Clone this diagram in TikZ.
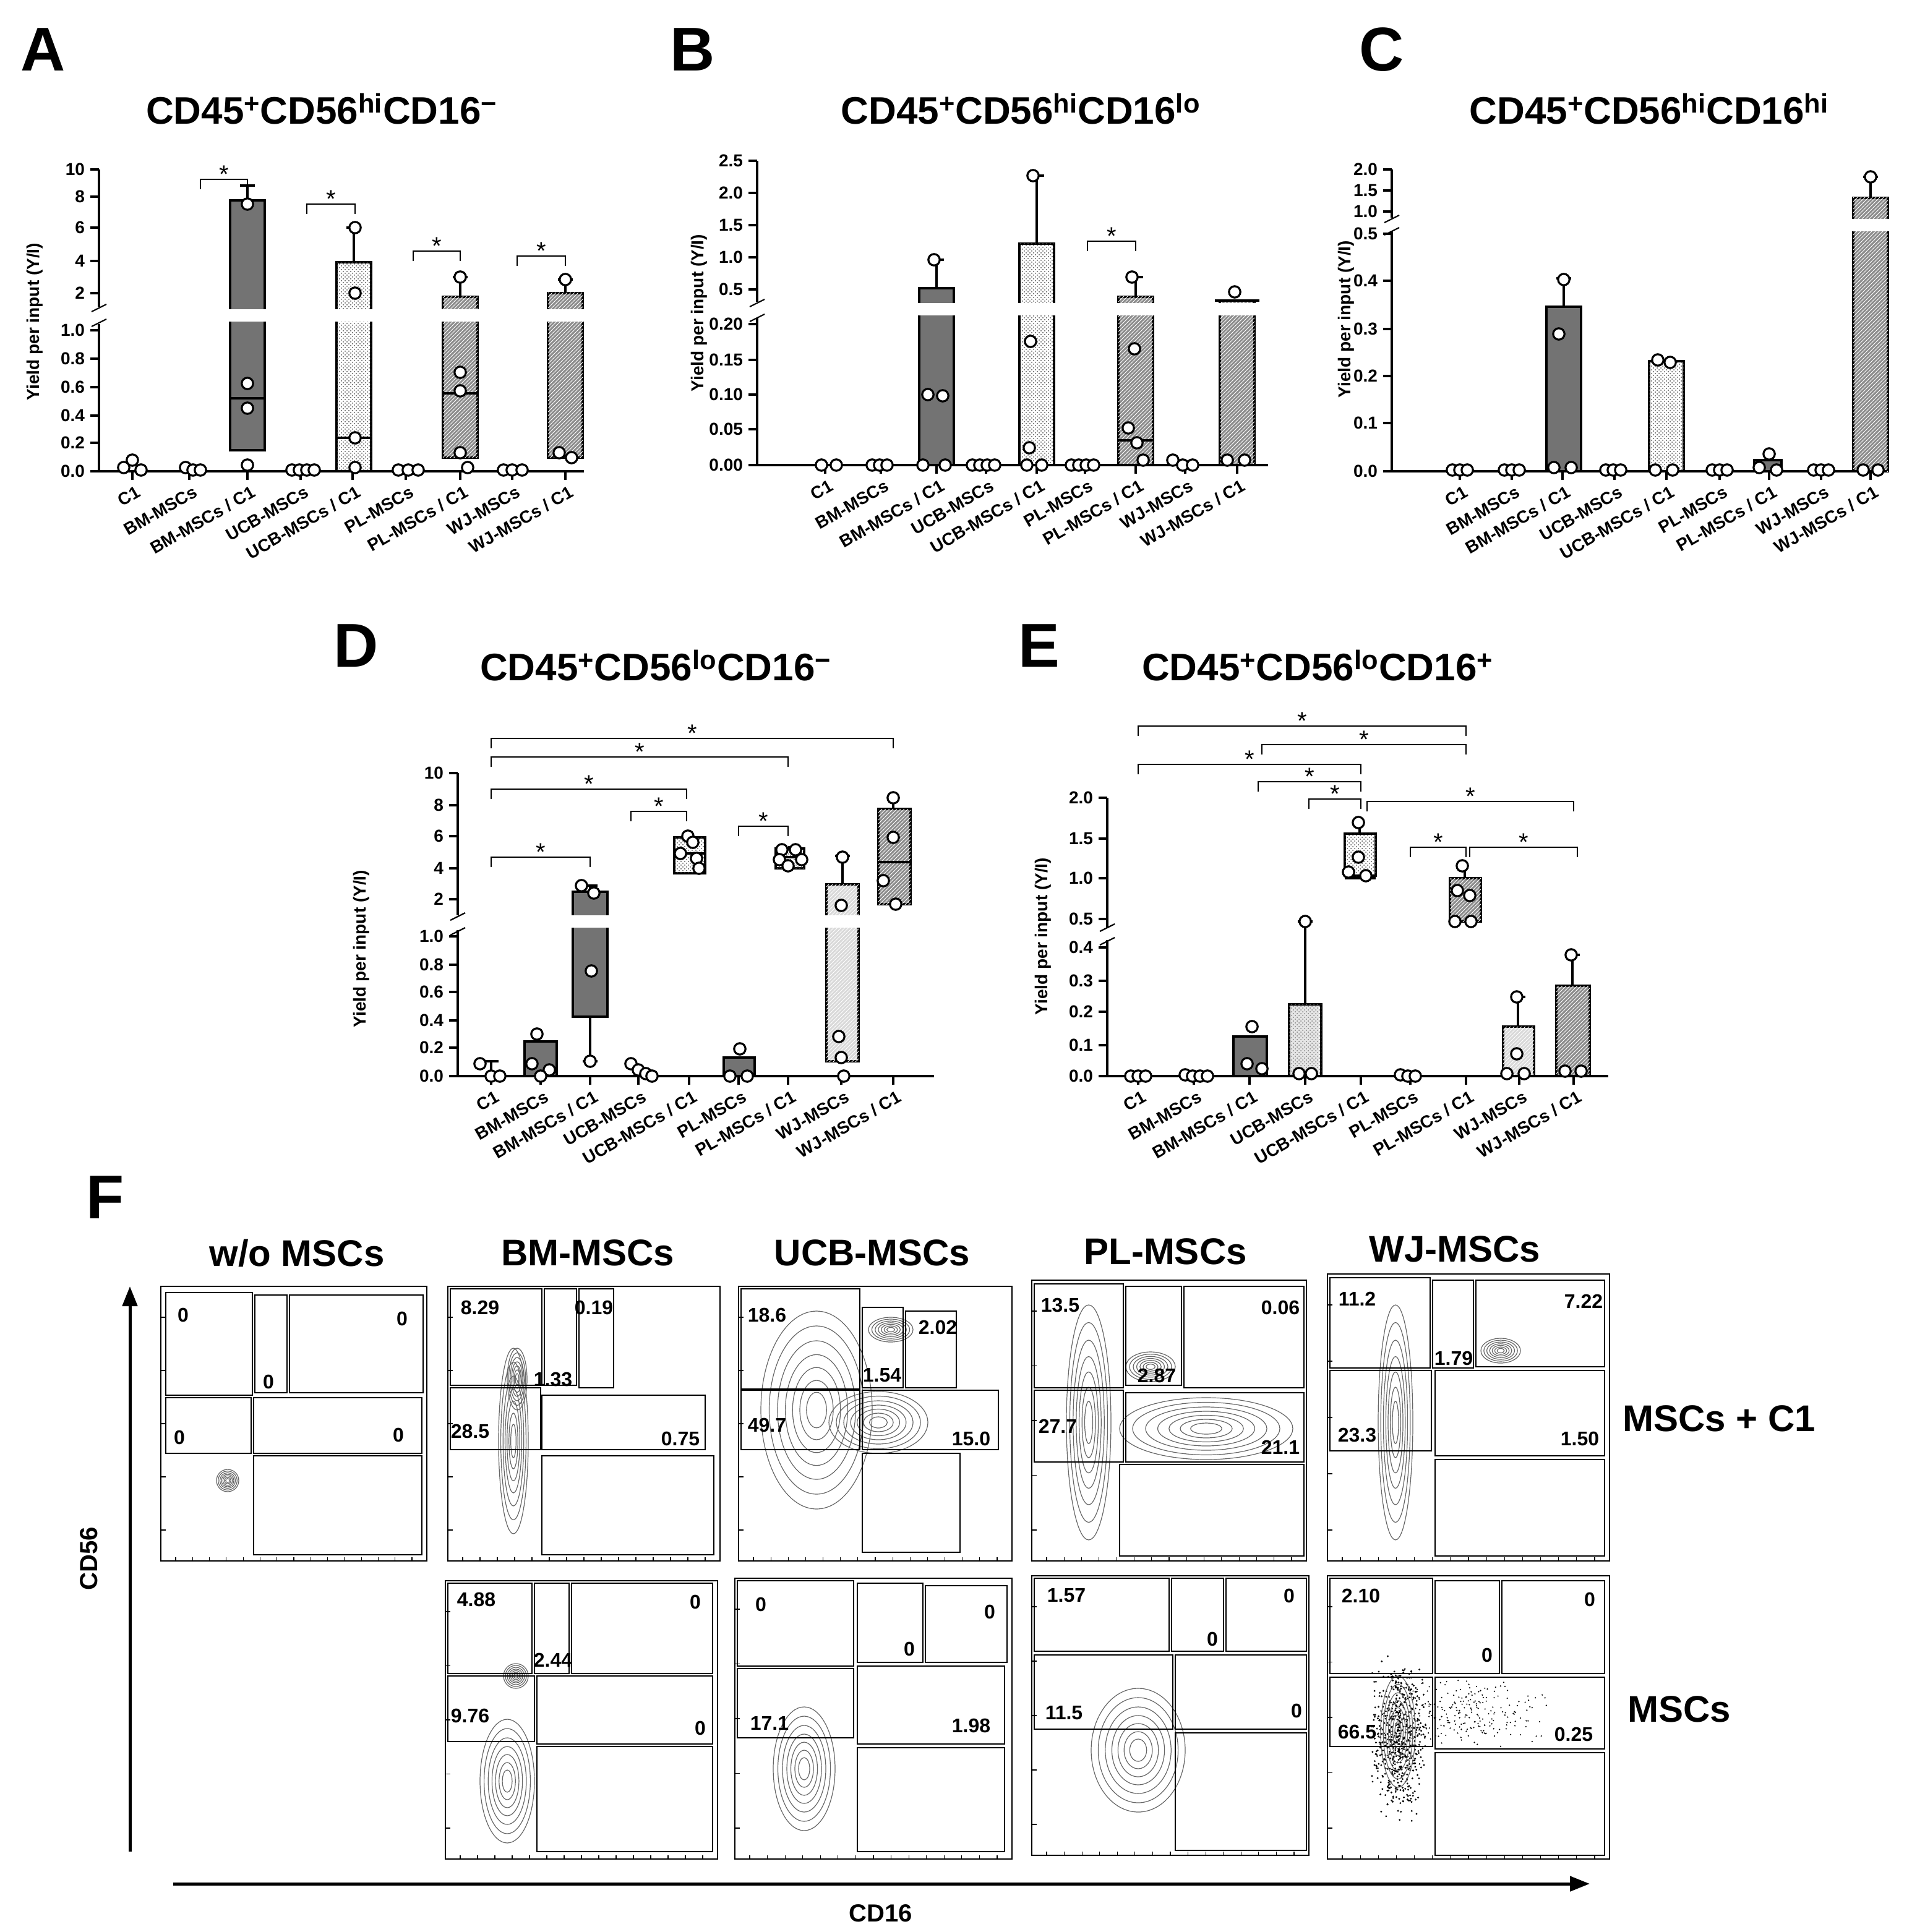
\documentclass[tikz,border=0pt]{standalone}
\usepackage{fontspec}
\setmainfont{Liberation Sans}
\usetikzlibrary{patterns,arrows.meta}
\begin{document}
\begin{tikzpicture}[x=1pt,y=-1pt,
 ax/.style={line width=1.8pt},
 pt/.style={draw=black,fill=white,line width=1.6pt},
 dark/.style={draw=black,line width=1.6pt,fill=black!55},
 dots/.style={draw=black,line width=1.6pt,fill=white,postaction={pattern=crosshatch dots,pattern color=black!70}},
 hatch/.style={draw=black,line width=1.6pt,fill=black!45,postaction={pattern=north east lines,pattern color=white}},
 lhatch/.style={draw=black,line width=1.6pt,fill=black!15,postaction={pattern=north east lines,pattern color=white}},
 ldots/.style={draw=black,line width=1.6pt,fill=black!10,postaction={pattern=crosshatch dots,pattern color=black!50}},
 br/.style={line width=1.1pt},
 tl/.style={font=\bfseries\fontsize{14}{14}\selectfont,anchor=east},
 xl/.style={font=\bfseries\fontsize{14}{14}\selectfont,anchor=east,rotate=30,inner sep=1pt},
 ttl/.style={font=\bfseries\fontsize{31}{31}\selectfont},
 let/.style={font=\bfseries\fontsize{50}{50}\selectfont},
 yl/.style={font=\bfseries\fontsize{14}{14}\selectfont,rotate=90},
 gate/.style={draw=black,line width=1.1pt},
 num/.style={font=\bfseries\fontsize{16}{16}\selectfont},
 ctl/.style={font=\bfseries\fontsize{30}{30}\selectfont},
 ct/.style={draw=black!60,line width=0.6pt}]
\useasboundingbox (0,0) rectangle (1545,1562);
\newcommand\pc[2]{\draw[pt] (#1,#2) circle (4.6);}
\newcommand\yt[3]{\draw[ax] (#1,#2) -- ++(-7,0); \node[tl] at (#1-8,#2) {#3};}
\newcommand\sig[3]{\draw[br] (#1,#3+8) -- (#1,#3) -- (#2,#3) -- (#2,#3+8); \node[font=\fontsize{20}{20}\selectfont] at ({(#1+#2)/2},#3-4) {*};}
\newcommand\err[3]{\draw[line width=1.6pt] (#1,#2) -- (#1,#3) (#1-6,#3) -- (#1+6,#3);}
\newcommand\blob[5]{\foreach \s in {1,0.85,0.7,0.56,0.43,0.3,0.18}{\draw[ct] (#1,#2) ellipse ({#3*\s} and {#4*\s});}}
\newcommand\gap[3]{\fill[white] (#1,#2) rectangle (#3,#2+10);}
\newcommand\supx[1]{\textsuperscript{#1}}
%%%%%%%%%%%%%%%% A
\node[let] at (35,40) {A};
\node[ttl] at (260,88) {CD45\supx{+}CD56\supx{hi}CD16\supx{−}};
\draw[dark] (186,162) rectangle (214,364); \draw[line width=1.6pt] (186,322)--(214,322);
\err{200}{162}{150}
\draw[dots] (272,212) rectangle (300,381); \draw[line width=1.6pt] (272,354)--(300,354);
\err{286}{212}{184}
\draw[hatch] (358,240) rectangle (386,370); \draw[line width=1.6pt] (358,318)--(386,318);
\err{372}{240}{224}
\draw[hatch] (443,237) rectangle (471,370);
\err{457}{237}{226}
\gap{180}{250}{480}
\draw[ax] (80,137) -- (80,248) (80,262) -- (80,381) -- (472,381);
\draw[br] (74,252)--(86,246) (74,264)--(86,258);
\yt{80}{137}{10}\yt{80}{159}{8}\yt{80}{184}{6}\yt{80}{211}{4}\yt{80}{237}{2}
\yt{80}{267}{1.0}\yt{80}{290}{0.8}\yt{80}{313}{0.6}\yt{80}{336}{0.4}\yt{80}{358}{0.2}\yt{80}{381}{0.0}
\foreach \x/\l in {107/{C1},153/{BM-MSCs},200/{BM-MSCs / C1},243/{UCB-MSCs},285/{UCB-MSCs / C1},328/{PL-MSCs},372/{PL-MSCs / C1},414/{WJ-MSCs},457/{WJ-MSCs / C1}}{\draw[ax] (\x,381)--(\x,388); \node[xl] at (\x+6,396) {\l};}
\pc{200}{165}\pc{200}{310}\pc{200}{330}\pc{200}{376}
\pc{287}{184}\pc{287}{237}\pc{287}{354}\pc{287}{378}
\pc{372}{224}\pc{372}{301}\pc{372}{316}\pc{372}{366}\pc{378}{378}
\pc{457}{226}\pc{452}{366}\pc{462}{370}
\pc{107}{372}\pc{100}{378}\pc{114}{380}
\pc{150}{378}\pc{156}{380}\pc{162}{380}
\pc{236}{380}\pc{242}{380}\pc{248}{380}\pc{254}{380}
\pc{322}{380}\pc{330}{380}\pc{338}{380}
\pc{407}{380}\pc{414}{380}\pc{422}{380}
\sig{162}{200}{145}\sig{248}{287}{165}\sig{334}{372}{203}\sig{418}{457}{207}
\node[yl] at (28,260) {Yield per input (Y/I)};
%%%%%%%%%%%%%%%% B
\node[let] at (560,40) {B};
\node[ttl] at (825,88) {CD45\supx{+}CD56\supx{hi}CD16\supx{lo}};
\draw[dark] (743,233) rectangle (771,376); \err{757}{233}{210}
\draw[dots] (824,197) rectangle (852,376); \err{838}{197}{142}
\draw[hatch] (904,240) rectangle (932,376); \draw[line width=1.6pt] (904,356)--(932,356); \err{918}{240}{224}
\draw[hatch] (986,243) rectangle (1014,376); \draw[line width=1.6pt] (982,243)--(1018,243);
\gap{730}{245}{1025}
\draw[ax] (612,130) -- (612,244) (612,257) -- (612,376) -- (1025,376);
\draw[br] (606,248)--(618,242) (606,260)--(618,254);
\yt{612}{130}{2.5}\yt{612}{156}{2.0}\yt{612}{182}{1.5}\yt{612}{208}{1.0}\yt{612}{234}{0.5}
\yt{612}{262}{0.20}\yt{612}{291}{0.15}\yt{612}{319}{0.10}\yt{612}{347}{0.05}\yt{612}{376}{0.00}
\foreach \x/\l in {667/{C1},712/{BM-MSCs},757/{BM-MSCs / C1},797/{UCB-MSCs},838/{UCB-MSCs / C1},877/{PL-MSCs},918/{PL-MSCs / C1},958/{WJ-MSCs},1000/{WJ-MSCs / C1}}{\draw[ax] (\x,376)--(\x,383); \node[xl] at (\x+6,391) {\l};}
\pc{755}{210}\pc{750}{319}\pc{762}{320}\pc{746}{376}\pc{764}{376}
\pc{835}{142}\pc{833}{276}\pc{832}{362}\pc{830}{376}\pc{842}{376}
\pc{915}{224}\pc{917}{282}\pc{912}{346}\pc{919}{358}\pc{924}{372}
\pc{998}{236}\pc{992}{372}\pc{1006}{372}
\pc{664}{376}\pc{676}{376}\pc{705}{376}\pc{711}{376}\pc{717}{376}
\pc{786}{376}\pc{792}{376}\pc{798}{376}\pc{804}{376}
\pc{866}{376}\pc{872}{376}\pc{878}{376}\pc{884}{376}
\pc{948}{372}\pc{956}{376}\pc{964}{376}
\sig{879}{918}{195}
\node[yl] at (565,253) {Yield per input (Y/I)};
%%%%%%%%%%%%%%%% C
\node[let] at (1117,40) {C};
\node[ttl] at (1333,88) {CD45\supx{+}CD56\supx{hi}CD16\supx{hi}};
\draw[dark] (1250,248) rectangle (1278,381); \err{1264}{248}{225}
\draw[dots] (1333,292) rectangle (1361,381);
\draw[dark] (1418,372) rectangle (1440,381);
\draw[hatch] (1498,160) rectangle (1526,381); \err{1512}{160}{143}
\gap{1490}{177}{1535}
\draw[ax] (1125,137) -- (1125,176) (1125,187) -- (1125,381) -- (1525,381);
\draw[br] (1119,180)--(1131,174) (1119,190)--(1131,184);
\yt{1125}{137}{2.0}\yt{1125}{154}{1.5}\yt{1125}{171}{1.0}
\yt{1125}{189}{0.5}\yt{1125}{227}{0.4}\yt{1125}{266}{0.3}\yt{1125}{304}{0.2}\yt{1125}{342}{0.1}\yt{1125}{381}{0.0}
\foreach \x/\l in {1180/{C1},1222/{BM-MSCs},1263/{BM-MSCs / C1},1305/{UCB-MSCs},1347/{UCB-MSCs / C1},1390/{PL-MSCs},1430/{PL-MSCs / C1},1472/{WJ-MSCs},1512/{WJ-MSCs / C1}}{\draw[ax] (\x,381)--(\x,388); \node[xl] at (\x+6,396) {\l};}
\pc{1264}{226}\pc{1260}{270}\pc{1256}{378}\pc{1270}{378}
\pc{1340}{291}\pc{1350}{293}\pc{1338}{380}\pc{1352}{380}
\pc{1430}{367}\pc{1422}{378}\pc{1436}{380}
\pc{1512}{143}\pc{1506}{380}\pc{1518}{380}
\pc{1174}{380}\pc{1180}{380}\pc{1186}{380}\pc{1216}{380}\pc{1222}{380}\pc{1228}{380}
\pc{1298}{380}\pc{1304}{380}\pc{1310}{380}\pc{1384}{380}\pc{1390}{380}\pc{1396}{380}
\pc{1466}{380}\pc{1472}{380}\pc{1478}{380}
\node[yl] at (1088,258) {Yield per input (Y/I)};
%%%%%%%%%%%%%%%% D
\node[let] at (288,522) {D};
\node[ttl] at (530,538) {CD45\supx{+}CD56\supx{lo}CD16\supx{−}};
\err{397}{870}{858}
\draw[dark] (424,842) rectangle (450,870);
\draw[line width=1.6pt] (477,716)--(477,858) (471,716)--(483,716) (471,858)--(483,858);
\draw[dark] (463,721) rectangle (491,822);
\draw[line width=1.6pt] (557,672)--(557,704);
\draw[dots] (545,677) rectangle (570,706); \draw[line width=1.6pt] (545,690)--(570,690);
\draw[dark] (585,855) rectangle (610,870);
\draw[line width=1.6pt] (638,684)--(638,702);
\draw[dots] (627,686) rectangle (650,702); \draw[line width=1.6pt] (627,693)--(650,693);
\draw[lhatch] (668,715) rectangle (694,858); \err{681}{715}{692}
\draw[line width=1.6pt] (722,645)--(722,731);
\draw[hatch] (710,654) rectangle (736,731); \draw[line width=1.6pt] (710,697)--(736,697);
\gap{455}{740}{745}
\draw[ax] (370,625) -- (370,740) (370,752) -- (370,870) -- (755,870);
\draw[br] (364,744)--(376,738) (364,756)--(376,750);
\yt{370}{625}{10}\yt{370}{651}{8}\yt{370}{676}{6}\yt{370}{702}{4}\yt{370}{727}{2}
\yt{370}{757}{1.0}\yt{370}{780}{0.8}\yt{370}{802}{0.6}\yt{370}{825}{0.4}\yt{370}{847}{0.2}\yt{370}{870}{0.0}
\foreach \x/\l in {397/{C1},437/{BM-MSCs},477/{BM-MSCs / C1},516/{UCB-MSCs},557/{UCB-MSCs / C1},597/{PL-MSCs},637/{PL-MSCs / C1},680/{WJ-MSCs},722/{WJ-MSCs / C1}}{\draw[ax] (\x,870)--(\x,877); \node[xl] at (\x+6,885) {\l};}
\pc{388}{860}\pc{397}{870}\pc{404}{870}
\pc{434}{836}\pc{430}{860}\pc{444}{865}\pc{437}{870}
\pc{470}{716}\pc{480}{722}\pc{478}{785}\pc{477}{858}
\pc{510}{860}\pc{516}{865}\pc{522}{868}\pc{527}{870}
\pc{556}{676}\pc{560}{681}\pc{550}{690}\pc{563}{694}\pc{565}{702}
\pc{598}{848}\pc{590}{870}\pc{604}{870}
\pc{632}{687}\pc{643}{687}\pc{630}{695}\pc{648}{695}\pc{637}{700}
\pc{681}{693}\pc{680}{732}\pc{678}{838}\pc{680}{855}\pc{682}{870}
\pc{722}{645}\pc{722}{677}\pc{714}{712}\pc{724}{731}
\sig{397}{722}{597}\sig{397}{637}{612}\sig{397}{555}{638}\sig{510}{555}{656}\sig{597}{637}{668}\sig{397}{477}{693}
\node[yl] at (292,767) {Yield per input (Y/I)};
%%%%%%%%%%%%%%%% E
\node[let] at (840,522) {E};
\node[ttl] at (1065,538) {CD45\supx{+}CD56\supx{lo}CD16\supx{+}};
\draw[dark] (997,838) rectangle (1024,870);
\draw[ldots] (1042,812) rectangle (1068,870); \err{1055}{812}{745}
\draw[line width=1.6pt] (1099,665)--(1099,708);
\draw[dots] (1087,674) rectangle (1112,708); \draw[line width=1.6pt] (1087,710)--(1112,710);
\draw[line width=1.6pt] (1184,700)--(1184,745);
\draw[hatch] (1172,710) rectangle (1197,745);
\draw[lhatch] (1215,830) rectangle (1240,870); \err{1227}{830}{806}
\draw[hatch] (1258,797) rectangle (1285,870); \err{1271}{797}{772}
\gap{1080}{750}{1205}
\draw[ax] (895,645) -- (895,750) (895,760) -- (895,870) -- (1300,870);
\draw[br] (889,753)--(901,747) (889,764)--(901,758);
\yt{895}{645}{2.0}\yt{895}{678}{1.5}\yt{895}{710}{1.0}\yt{895}{743}{0.5}
\yt{895}{766}{0.4}\yt{895}{793}{0.3}\yt{895}{818}{0.2}\yt{895}{845}{0.1}\yt{895}{870}{0.0}
\foreach \x/\l in {920/{C1},965/{BM-MSCs},1010/{BM-MSCs / C1},1055/{UCB-MSCs},1100/{UCB-MSCs / C1},1140/{PL-MSCs},1185/{PL-MSCs / C1},1228/{WJ-MSCs},1272/{WJ-MSCs / C1}}{\draw[ax] (\x,870)--(\x,877); \node[xl] at (\x+6,885) {\l};}
\pc{914}{870}\pc{920}{870}\pc{926}{870}\pc{958}{869}\pc{964}{870}\pc{970}{870}\pc{976}{870}
\pc{1012}{830}\pc{1008}{860}\pc{1020}{864}
\pc{1055}{745}\pc{1050}{868}\pc{1060}{868}
\pc{1098}{665}\pc{1098}{693}\pc{1090}{705}\pc{1104}{708}
\pc{1132}{869}\pc{1138}{870}\pc{1144}{870}
\pc{1182}{700}\pc{1178}{720}\pc{1188}{724}\pc{1176}{745}\pc{1189}{745}
\pc{1226}{806}\pc{1226}{852}\pc{1218}{868}\pc{1232}{868}
\pc{1270}{772}\pc{1265}{866}\pc{1278}{866}
\sig{920}{1185}{587}\sig{1020}{1185}{602}\sig{920}{1100}{618}\sig{1017}{1100}{632}\sig{1058}{1100}{646}\sig{1105}{1272}{648}\sig{1140}{1185}{685}\sig{1188}{1275}{685}
\node[yl] at (843,757) {Yield per input (Y/I)};
%%%%%%%%%%%%%%%% F
\node[let] at (85,968) {F};
\node[ctl] at (240,1013) {w/o MSCs};
\node[ctl] at (475,1013) {BM-MSCs};
\node[ctl] at (705,1013) {UCB-MSCs};
\node[ctl] at (942,1012) {PL-MSCs};
\node[ctl] at (1176,1010) {WJ-MSCs};
\node[ctl,anchor=west] at (1308,1147) {MSCs + C1};
\node[ctl,anchor=west] at (1312,1382) {MSCs};
\draw[line width=2.5pt,-{Triangle[length=16pt,width=12pt]}] (105,1497) -- (105,1040);
\node[font=\bfseries\fontsize{20}{20}\selectfont,rotate=90] at (72,1260) {CD56};
\draw[line width=2.5pt,-{Triangle[length=16pt,width=12pt]}] (140,1523) -- (1285,1523);
\node[font=\bfseries\fontsize{20}{20}\selectfont] at (712,1547) {CD16};
% frames with ticks
\foreach \a/\b/\c/\d in {130/1040/345/1262,362/1040/582/1262,597/1040/818/1262,834/1035/1056/1262,1073/1030/1301/1262,360/1278/580/1503,594/1276/818/1503,834/1274/1058/1500,1073/1274/1301/1503}{
 \draw[line width=0.8pt] (\a,\b) rectangle (\c,\d);
 \foreach \t in {0,1,...,14}{\draw[line width=0.6pt] ({\a+12+\t*(\c-\a-24)/14},\d) -- ++(0,-3);}
 \foreach \t in {0,...,4}{\draw[line width=0.6pt] (\a,{\b+25+\t*(\d-\b-50)/4}) -- ++(4,0);}
}
% w/o
\draw[gate] (134,1045) rectangle (204,1128) (206,1047) rectangle (232,1126) (234,1047) rectangle (342,1126) (134,1130) rectangle (203,1175) (205,1130) rectangle (341,1175) (205,1177) rectangle (341,1257);
\node[num] at (148,1063) {0};\node[num] at (217,1117) {0};\node[num] at (325,1066) {0};\node[num] at (145,1162) {0};\node[num] at (322,1160) {0};
\blob{184}{1197}{9}{9}{}
% BM row1
\blob{415}{1165}{12}{75}{}\blob{418}{1115}{8}{25}{}
\draw[gate] (364,1042) rectangle (438,1120) (440,1042) rectangle (466,1120) (468,1042) rectangle (496,1122) (364,1122) rectangle (437,1172) (438,1128) rectangle (570,1172) (438,1177) rectangle (577,1257);
\node[num] at (388,1057) {8.29};\node[num] at (480,1057) {0.19};\node[num] at (447,1115) {1.33};\node[num] at (380,1157) {28.5};\node[num] at (550,1163) {0.75};
% UCB row1
\blob{660}{1140}{45}{80}{}\blob{710}{1150}{40}{25}{}\blob{720}{1075}{18}{10}{}
\draw[gate] (599,1042) rectangle (695,1123) (697,1057) rectangle (730,1122) (732,1060) rectangle (773,1122) (599,1124) rectangle (695,1172) (697,1124) rectangle (807,1172) (697,1175) rectangle (776,1255);
\node[num] at (620,1063) {18.6};\node[num] at (758,1073) {2.02};\node[num] at (713,1112) {1.54};\node[num] at (620,1152) {49.7};\node[num] at (785,1163) {15.0};
% PL row1
\blob{880}{1150}{18}{95}{}\blob{975}{1155}{70}{25}{}\blob{930}{1105}{20}{12}{}
\draw[gate] (836,1038) rectangle (908,1122) (910,1040) rectangle (955,1120) (957,1040) rectangle (1054,1122) (836,1124) rectangle (908,1182) (910,1126) rectangle (1054,1182) (905,1184) rectangle (1054,1258);
\node[num] at (857,1055) {13.5};\node[num] at (1035,1057) {0.06};\node[num] at (935,1112) {2.87};\node[num] at (855,1153) {27.7};\node[num] at (1035,1170) {21.1};
% WJ row1
\blob{1128}{1150}{14}{95}{}\blob{1213}{1092}{16}{10}{}
\draw[gate] (1075,1033) rectangle (1156,1106) (1158,1035) rectangle (1191,1106) (1193,1035) rectangle (1297,1105) (1075,1108) rectangle (1157,1173) (1160,1108) rectangle (1297,1177) (1160,1180) rectangle (1297,1258);
\node[num] at (1097,1050) {11.2};\node[num] at (1280,1052) {7.22};\node[num] at (1175,1098) {1.79};\node[num] at (1097,1160) {23.3};\node[num] at (1277,1163) {1.50};
% BM row2
\blob{417}{1355}{10}{10}{}\blob{410}{1440}{22}{50}{}
\draw[gate] (362,1280) rectangle (430,1353) (432,1280) rectangle (460,1353) (462,1280) rectangle (576,1353) (362,1355) rectangle (432,1408) (434,1355) rectangle (576,1410) (434,1412) rectangle (576,1497);
\node[num] at (385,1293) {4.88};\node[num] at (562,1295) {0};\node[num] at (447,1342) {2.44};\node[num] at (380,1387) {9.76};\node[num] at (566,1397) {0};
% UCB row2
\blob{650}{1430}{25}{50}{}
\draw[gate] (596,1278) rectangle (690,1347) (693,1280) rectangle (746,1344) (748,1282) rectangle (814,1344) (596,1349) rectangle (690,1405) (693,1347) rectangle (812,1410) (693,1413) rectangle (812,1497);
\node[num] at (615,1297) {0};\node[num] at (800,1303) {0};\node[num] at (735,1333) {0};\node[num] at (622,1393) {17.1};\node[num] at (785,1395) {1.98};
% PL row2
\blob{920}{1415}{38}{50}{}
\draw[gate] (836,1276) rectangle (945,1335) (947,1276) rectangle (989,1335) (991,1276) rectangle (1056,1335) (836,1338) rectangle (948,1398) (950,1338) rectangle (1056,1398) (950,1401) rectangle (1056,1496);
\node[num] at (862,1290) {1.57};\node[num] at (1042,1290) {0};\node[num] at (980,1325) {0};\node[num] at (860,1385) {11.5};\node[num] at (1048,1383) {0};
% WJ row2
\pgfmathsetseed{7}
\foreach \i in {1,...,600}{\pgfmathsetmacro\rx{1130+12*(rand+rand)}\pgfmathsetmacro\ry{1405+35*(rand+rand)}\fill (\rx,\ry) circle (0.8);}
\foreach \i in {1,...,250}{\pgfmathsetmacro\rx{1190+35*(rand+rand)}\pgfmathsetmacro\ry{1385+15*(rand+rand)}\fill (\rx,\ry) circle (0.6);}
\blob{1130}{1400}{14}{45}{}
\draw[gate] (1075,1276) rectangle (1158,1353) (1160,1278) rectangle (1212,1353) (1214,1278) rectangle (1297,1353) (1075,1356) rectangle (1158,1412) (1160,1356) rectangle (1297,1414) (1160,1417) rectangle (1297,1500);
\node[num] at (1100,1290) {2.10};\node[num] at (1285,1293) {0};\node[num] at (1202,1338) {0};\node[num] at (1097,1400) {66.5};\node[num] at (1272,1402) {0.25};
\end{tikzpicture}
\end{document}
